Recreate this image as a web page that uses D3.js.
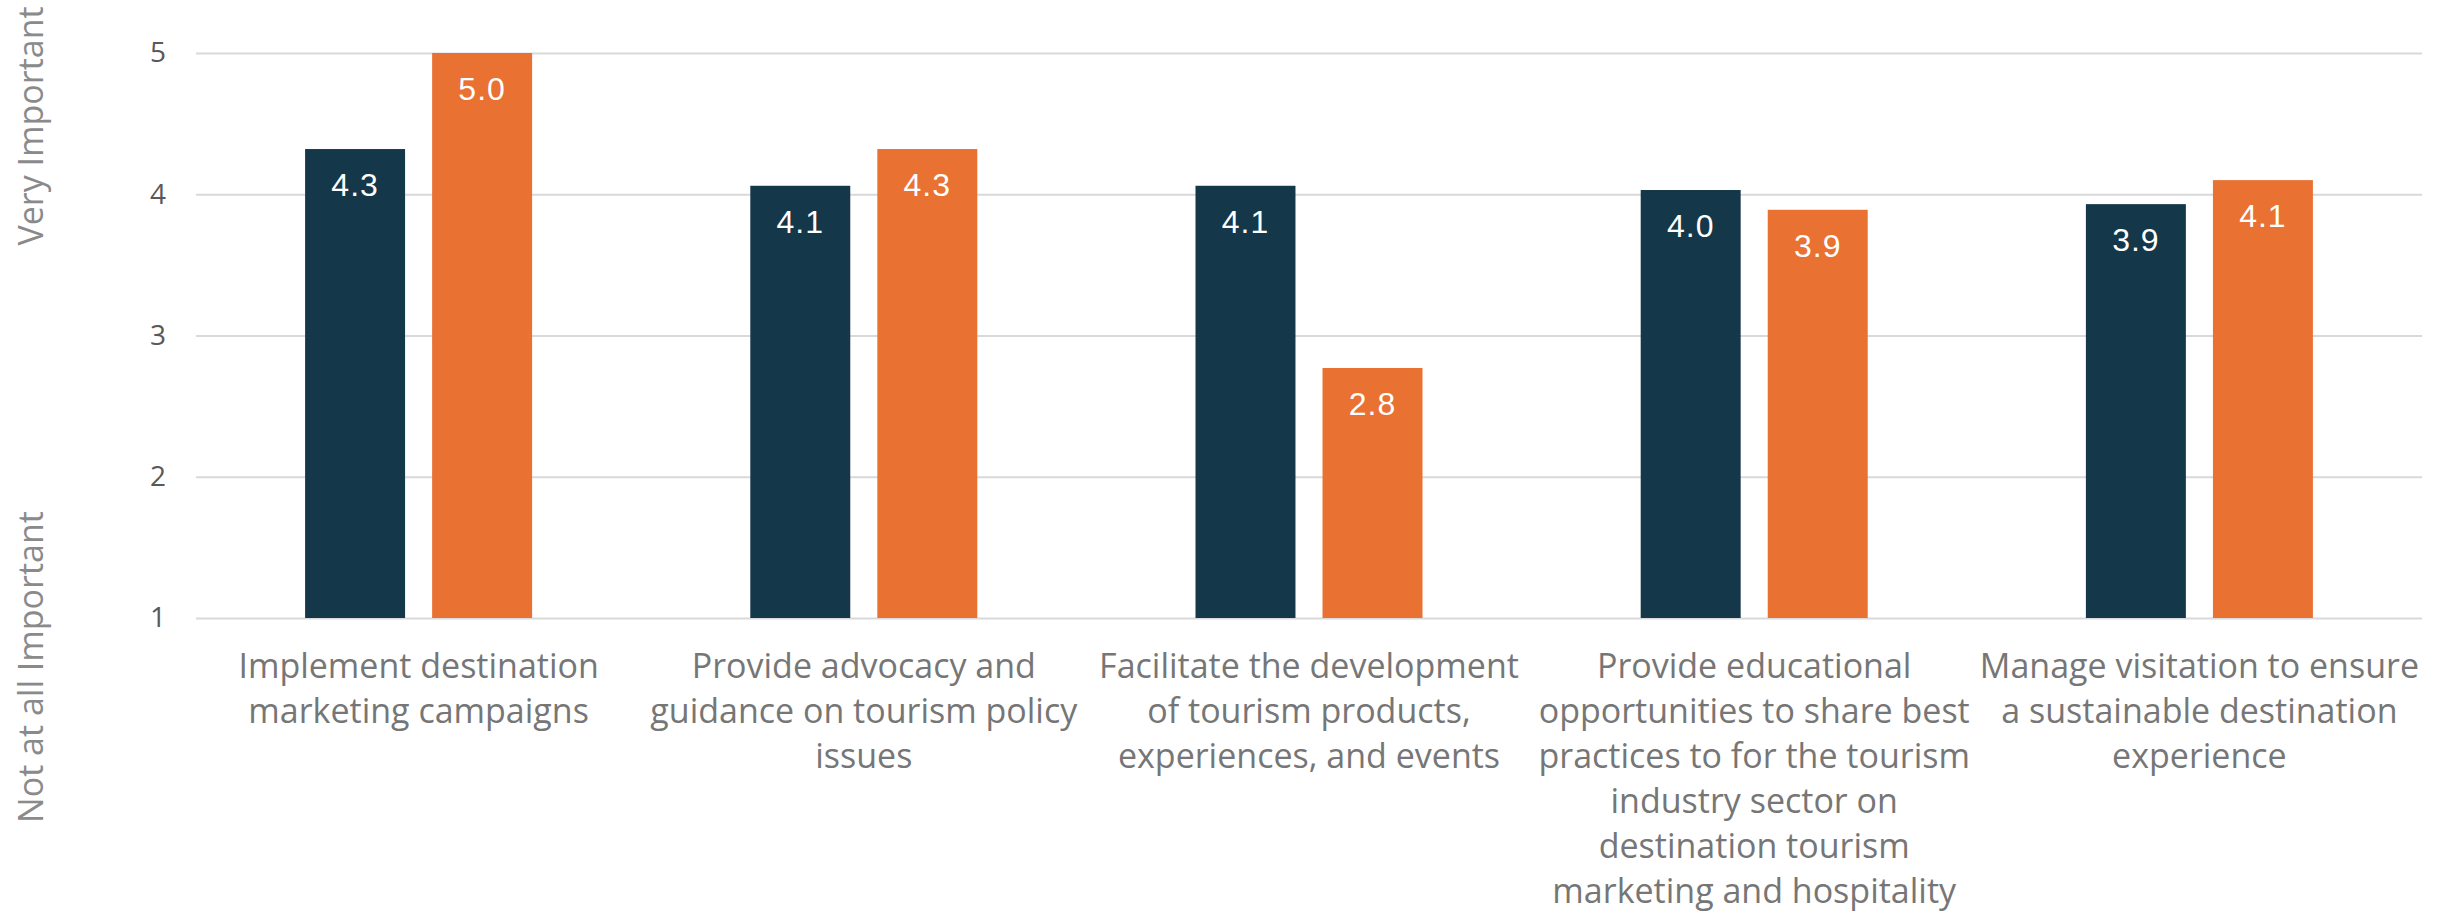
<!DOCTYPE html>
<html>
<head>
<meta charset="utf-8">
<script src="https://cdn.jsdelivr.net/npm/d3@7"></script>
<style>
  body { margin: 0; background: #fff; }
  .tick text { font-family: "Open Sans", sans-serif; }
</style>
</head>
<body>
<div id="chart"></div>
<script>
// Data

var categories = [
  ["Implement destination", "marketing campaigns"],
  ["Provide advocacy and", "guidance on tourism policy", "issues"],
  ["Facilitate the development", "of tourism products,", "experiences, and events"],
  ["Provide educational", "opportunities to share best", "practices to for the tourism", "industry sector on", "destination tourism", "marketing and hospitality"],
  ["Manage visitation to ensure", "a sustainable destination", "experience"]
];

var series = ["A", "B"];
var seriesA = [4.32, 4.06, 4.06, 4.03, 3.93];
var seriesB = [5.0, 4.32, 2.77, 3.89, 4.10];

var yTicks = [1, 2, 3, 4, 5];
var yTitleTop = "Very Important";
var yTitleBottom = "Not at all Important";

var colors = { A: "#15374a", B: "#e97132" };

var margin = {top: 53, right: 31, bottom: 294, left: 196};
var width = 2453 - margin.left - margin.right;
var height = 912 - margin.top - margin.bottom;

var svg = d3.select("#chart").append("svg")
    .attr("width", width + margin.left + margin.right)
    .attr("height", height + margin.top + margin.bottom);

var g = svg.append("g")
    .attr("transform", "translate(" + margin.left + "," + margin.top + ")");

var x0 = d3.scaleBand()
    .domain(d3.range(categories.length))
    .range([0, width]);

// two bars, 100px wide with a 27px gap, centred in the band
var x1 = d3.scaleBand()
    .domain(series)
    .range([-113.5, 113.5])
    .paddingInner(0.213);

var y = d3.scaleLinear()
    .domain([1, 5])
    .range([height, 0]);

// gridlines + tick labels
var yAxis = d3.axisLeft(y)
    .tickValues(yTicks)
    .tickSize(-width)
    .tickPadding(30)
    .tickFormat(d3.format("d"));

var yg = g.append("g")
    .attr("class", "axis y-axis")
    .call(yAxis);

yg.select(".domain").remove();
yg.selectAll(".tick line")
    .attr("stroke", "#d9d9d9")
    .attr("stroke-width", 2);
yg.selectAll(".tick text")
    .attr("fill", "#595959")
    .style("font-size", "28px");

var rows = categories.map(function(c, i) {
  return { i: i, A: seriesA[i], B: seriesB[i] };
});

var groups = g.append("g").selectAll(".group")
    .data(rows)
    .enter().append("g")
    .attr("class", "group")
    .attr("transform", function(d) {
      return "translate(" + (x0(d.i) + x0.bandwidth() / 2) + ",0)";
    });

var bars = groups.selectAll(".bar")
    .data(function(d) {
      return series.map(function(s) { return { key: s, value: d[s] }; });
    })
    .enter();

bars.append("rect")
    .attr("class", "bar")
    .attr("x", function(d) { return x1(d.key); })
    .attr("width", x1.bandwidth())
    .attr("y", function(d) { return y(d.value); })
    .attr("height", function(d) { return y(1) - y(d.value); })
    .attr("fill", function(d) { return colors[d.key]; });

bars.append("text")
    .attr("class", "barLabel")
    .attr("x", function(d) { return x1(d.key) + x1.bandwidth() / 2; })
    .attr("y", function(d) { return y(d.value) + 47; })
    .attr("text-anchor", "middle")
    .attr("fill", "#fff")
    .style("font-family", "'Liberation Sans', Arial, sans-serif")
    .style("font-size", "32px")
    .style("letter-spacing", "1px")
    .text(function(d) { return d3.format(".1f")(d.value); });

// category labels
var catText = g.append("g").selectAll(".catLabel")
    .data(categories)
    .enter().append("text")
    .attr("class", "catLabel")
    .attr("text-anchor", "middle")
    .attr("fill", "#767676")
    .style("font-family", "'Open Sans', sans-serif")
    .style("font-size", "34px")
    .attr("transform", function(d, i) {
      return "translate(" + (x0(i) + x0.bandwidth() / 2) + "," + (height + 60) + ")";
    });

catText.selectAll("tspan")
    .data(function(d) { return d; })
    .enter().append("tspan")
    .attr("x", 0)
    .attr("y", function(d, i) { return i * 45; })
    .text(function(d) { return d; });

// rotated axis titles
svg.append("text")
    .attr("transform", "translate(43,126) rotate(-90)")
    .attr("text-anchor", "middle")
    .attr("fill", "#8a8a8a")
    .style("font-family", "'Open Sans', sans-serif")
    .style("font-size", "34px")
    .text(yTitleTop);

svg.append("text")
    .attr("transform", "translate(43,667) rotate(-90)")
    .attr("text-anchor", "middle")
    .attr("fill", "#8a8a8a")
    .style("font-family", "'Open Sans', sans-serif")
    .style("font-size", "34px")
    .text(yTitleBottom);
</script>
</body>
</html>
